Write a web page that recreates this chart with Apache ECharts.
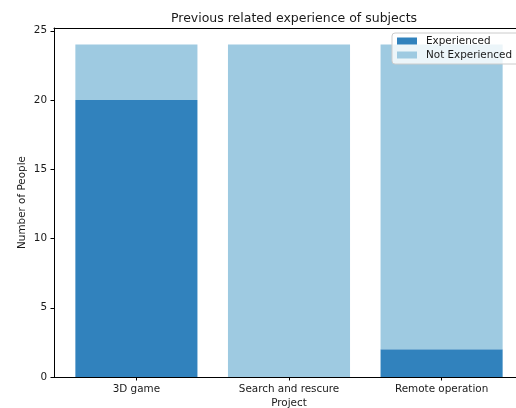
<!DOCTYPE html>
<html>
<head>
<meta charset="utf-8">
<script src="https://cdn.jsdelivr.net/npm/echarts@6/dist/echarts.min.js"></script>
<style>
  html, body { margin: 0; padding: 0; background: #fff; }
  #chart { width: 516px; height: 408px; }
</style>
</head>
<body>
<div id="chart"></div>
<script>
// Survey of prior experience per project
const projects = ['3D game', 'Search and rescure', 'Remote operation'];
const experienced = [20, 0, 2];
const notExperienced = [4, 24, 22];
const yTicks = [0, 5, 10, 15, 20, 25];

const FONT = 'DejaVu Sans';
const TEXT = '#1a1a1a';
const FS = 10.4;

// plot area spans -0.54 .. 2.54 in category units (bar width 0.8)
const xMin = -0.54, xMax = 2.54;
const gridLeft = 54, gridWidth = 470;
const unitPx = gridWidth / (xMax - xMin);

// rows are [count, projectIndex] so the count is the stacked dimension
const rows = vals => vals.map((v, i) => [v, i]);

const chart = echarts.init(document.getElementById('chart'), null, { renderer: 'canvas' });

chart.setOption({
  animation: false,
  backgroundColor: '#fff',
  title: {
    text: 'Previous related experience of subjects',
    left: gridLeft + gridWidth / 2, top: 7, textAlign: 'center',
    textStyle: { fontFamily: FONT, fontSize: 12.5, fontWeight: 'normal', color: TEXT }
  },
  legend: {
    orient: 'vertical',
    left: 392, top: 33,
    itemWidth: 20, itemHeight: 7, itemGap: 4,
    padding: [3, 8, 4, 5],
    backgroundColor: 'rgba(255,255,255,0.8)',
    borderColor: '#cccccc', borderWidth: 1, borderRadius: 3,
    textStyle: { fontFamily: FONT, fontSize: FS, color: TEXT, padding: [0, 0, 0, 4] },
    data: [
      { name: 'Experienced', icon: 'rect' },
      { name: 'Not Experienced', icon: 'rect' }
    ]
  },
  grid: { left: gridLeft, top: 28, width: gridWidth, height: 349, outerBoundsMode: 'none', containLabel: false },
  xAxis: [{
    type: 'value',
    min: xMin, max: xMax,
    name: 'Project', nameLocation: 'middle', nameGap: 21.5, nameMoveOverlap: false,
    nameTextStyle: { fontFamily: FONT, fontSize: FS, color: TEXT },
    axisLine: { show: true, onZero: false, lineStyle: { color: '#000', width: 1 } },
    axisTick: { show: true, length: 3.5, customValues: [0, 1, 2], lineStyle: { color: '#000' } },
    axisLabel: {
      customValues: [0, 1, 2], margin: 7,
      fontFamily: FONT, fontSize: FS, color: TEXT,
      formatter: v => projects[Math.round(v)]
    },
    splitLine: { show: false }
  }, {
    type: 'value', position: 'top',
    min: xMin, max: xMax,
    axisLine: { show: true, onZero: false, lineStyle: { color: '#000', width: 1 } },
    axisTick: { show: false }, axisLabel: { show: false }, splitLine: { show: false }
  }],
  yAxis: {
    type: 'value', min: 0, max: 25.2,
    name: 'Number of People', nameLocation: 'middle', nameGap: 27, nameMoveOverlap: false,
    nameTextStyle: { fontFamily: FONT, fontSize: FS, color: TEXT },
    axisLine: { show: true, onZero: false, lineStyle: { color: '#000', width: 1 } },
    axisTick: { show: true, length: 3.5, customValues: yTicks, lineStyle: { color: '#000' } },
    axisLabel: { customValues: yTicks, margin: 7, fontFamily: FONT, fontSize: FS, color: TEXT },
    splitLine: { show: false }
  },
  series: [{
    name: 'Experienced', type: 'bar', stack: 'total',
    barWidth: 0.8 * unitPx,
    itemStyle: { color: '#3182bd' },
    encode: { x: 1, y: 0 },
    data: rows(experienced)
  }, {
    name: 'Not Experienced', type: 'bar', stack: 'total',
    barWidth: 0.8 * unitPx,
    itemStyle: { color: '#9ecae1' },
    encode: { x: 1, y: 0 },
    data: rows(notExperienced)
  }]
});
</script>
</body>
</html>
